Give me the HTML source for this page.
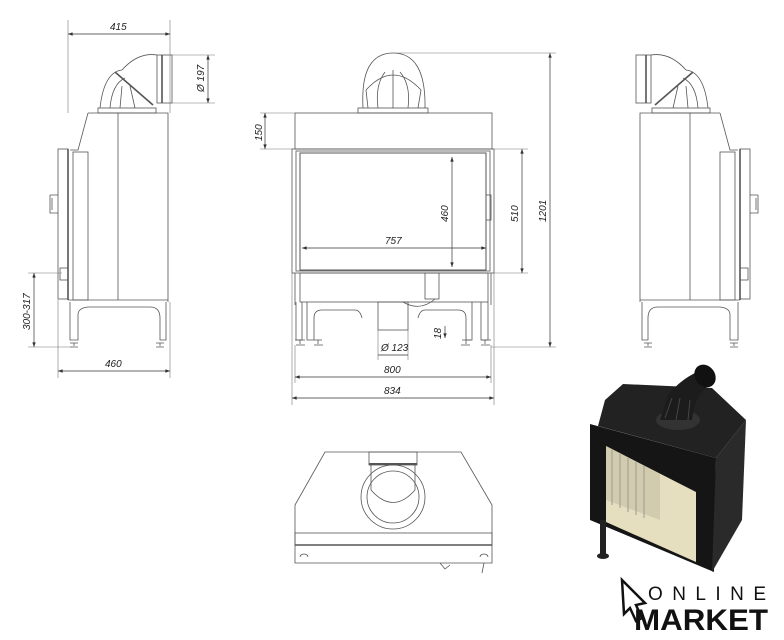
<!DOCTYPE html>
<html><head><meta charset="utf-8"><style>
html,body{margin:0;padding:0;background:#fff}
svg{display:block}
text{font-family:"Liberation Sans",sans-serif;font-style:italic;font-size:10px;fill:#222}
</style></head><body>
<svg width="784" height="640" viewBox="0 0 784 640" xmlns="http://www.w3.org/2000/svg">
<defs>
<marker id="a" viewBox="0 0 8 6" refX="8" refY="3" markerWidth="7" markerHeight="5" orient="auto-start-reverse"><path d="M0,0L8,3L0,6z" fill="#333"/></marker>
<g id="side" fill="none" stroke="#555" stroke-width="0.8">
  <path d="M88,113 H168 V302 M88,113 L78,150 H70"/>
  <rect x="58" y="149" width="10" height="150"/>
  <line x1="68" y1="149" x2="68" y2="300" stroke-width="1.6"/>
  <rect x="73" y="152" width="15" height="148"/>
  <path d="M50,195 h8 M50,195 v18 h8 M52,198 v12"/>
  <line x1="118" y1="113" x2="118" y2="300"/>
  <path d="M68,300 H168 M70,302 V340 H78 V315 Q78,308 88,307 H150 Q160,307 160,318 V340 H166 V302"/>
  <path d="M70,343 h8 M74,343 v3 M70,347 h8 M156,343 h8 M160,343 v3 M156,347 h8"/>
  <rect x="98" y="108" width="58" height="5"/>
  <path d="M100,108 Q104,72 122,70 M110,108 Q112,84 125,78 M120,108 L122,86 M135,108 L130,86 M122,70 Q138,52 157,55"/>
  <line x1="115" y1="72" x2="153" y2="105" stroke-width="1.6"/>
  <rect x="157" y="55" width="15" height="48"/>
  <line x1="162" y1="55" x2="162" y2="103" stroke-width="1.6"/>
  <rect x="60" y="268" width="8" height="12"/>
</g>
</defs>

<use href="#side"/>
<g stroke="#777" stroke-width="0.6" fill="none">
  <line x1="68" y1="20" x2="68" y2="113"/><line x1="170" y1="20" x2="170" y2="113"/>
  <line x1="172" y1="55" x2="215" y2="55"/><line x1="172" y1="103" x2="215" y2="103"/>
  <line x1="58" y1="300" x2="58" y2="378"/><line x1="170" y1="302" x2="170" y2="378"/>
  <line x1="28" y1="273" x2="62" y2="273"/><line x1="28" y1="347" x2="72" y2="347"/>
</g>
<g stroke="#333" stroke-width="0.7" fill="none">
  <line x1="68" y1="34" x2="170" y2="34" marker-start="url(#a)" marker-end="url(#a)"/>
  <line x1="208" y1="55" x2="208" y2="103" marker-start="url(#a)" marker-end="url(#a)"/>
  <line x1="58" y1="371" x2="170" y2="371" marker-start="url(#a)" marker-end="url(#a)"/>
  <line x1="34" y1="273" x2="34" y2="347" marker-start="url(#a)" marker-end="url(#a)"/>
</g>
<text x="110" y="30">415</text>
<text x="105" y="367">460</text>
<text transform="translate(204,92) rotate(-90)">Ø 197</text>
<text transform="translate(30,330) rotate(-90)">300-317</text>

<use href="#side" transform="translate(808,0) scale(-1,1)"/>

<g fill="none" stroke="#555" stroke-width="0.8">
  <rect x="295" y="113" width="197" height="36"/>
  <rect x="358" y="108" width="70" height="5"/>
  <path d="M363,108 Q360,53 393,53 Q426,53 425,108"/>
  <path d="M366,90 Q393,60 421,90 M366,90 L368,108 M421,90 L418,108 M378,108 Q375,85 385,72 M393,108 V70 M408,108 Q411,85 400,72"/>
  <rect x="292" y="149" width="202" height="124"/>
  <rect x="296" y="151" width="194" height="120"/>
  <rect x="300" y="153" width="186" height="117" stroke-width="1"/>
  <rect x="486" y="195" width="5" height="25"/>
  <rect x="300" y="273" width="188" height="29"/>
  <line x1="295" y1="273" x2="295" y2="305"/><line x1="491" y1="273" x2="491" y2="305"/>
  <path d="M296,302 V340 H302 V302 M481,302 V340 H488 V302"/>
  <path d="M307,302 V340 H314 V318 Q314,310 322,310 H355 Q360,310 362,318 M472,302 V340 H466 V318 Q466,310 458,310 H425 Q420,310 418,318"/>
  <path d="M295,340 h10 M300,340 v4 M296,345 h9 M481,340 h10 M485,340 v4 M481,345 h9 M314,340 h8 M318,340 v4 M314,345 h9 M462,340 h9 M466,340 v4 M461,345 h9"/>
  <rect x="378" y="302" width="30" height="28"/>
  <rect x="425" y="273" width="14" height="26"/>
  <path d="M403,302 Q420,312 435,299"/>
</g>
<g stroke="#777" stroke-width="0.6" fill="none">
  <line x1="260" y1="113" x2="295" y2="113"/><line x1="260" y1="149" x2="292" y2="149"/>
  <line x1="393" y1="53" x2="556" y2="53"/><line x1="491" y1="347" x2="556" y2="347"/>
  <line x1="494" y1="149" x2="528" y2="149"/><line x1="494" y1="273" x2="528" y2="273"/>
  <line x1="292" y1="273" x2="292" y2="405"/><line x1="494" y1="273" x2="494" y2="405"/>
  <line x1="295" y1="345" x2="295" y2="383"/><line x1="491" y1="345" x2="491" y2="383"/>
  <line x1="378" y1="330" x2="378" y2="360"/><line x1="408" y1="330" x2="408" y2="360"/>
</g>
<g stroke="#333" stroke-width="0.7" fill="none">
  <line x1="265" y1="113" x2="265" y2="149" marker-start="url(#a)" marker-end="url(#a)"/>
  <line x1="550" y1="53" x2="550" y2="347" marker-start="url(#a)" marker-end="url(#a)"/>
  <line x1="522" y1="149" x2="522" y2="273" marker-start="url(#a)" marker-end="url(#a)"/>
  <line x1="452" y1="157" x2="452" y2="267" marker-start="url(#a)" marker-end="url(#a)"/>
  <line x1="302" y1="248" x2="486" y2="248" marker-start="url(#a)" marker-end="url(#a)"/>
  <line x1="295" y1="377" x2="491" y2="377" marker-start="url(#a)" marker-end="url(#a)"/>
  <line x1="292" y1="398" x2="494" y2="398" marker-start="url(#a)" marker-end="url(#a)"/>
  <line x1="378" y1="355" x2="408" y2="355"/>
  <line x1="445" y1="326" x2="445" y2="338" marker-end="url(#a)"/>
</g>
<text x="385" y="244">757</text>
<text x="384" y="373">800</text>
<text x="384" y="394">834</text>
<text x="381" y="351">Ø 123</text>
<text transform="translate(262,141) rotate(-90)">150</text>
<text transform="translate(448,222) rotate(-90)">460</text>
<text transform="translate(518,222) rotate(-90)">510</text>
<text transform="translate(546,222) rotate(-90)">1201</text>
<text transform="translate(441,339) rotate(-90)">18</text>

<g fill="none" stroke="#555" stroke-width="0.8">
  <path d="M325,452 H461 L492,505 V563 H295 V505 Z"/>
  <rect x="369" y="452" width="48" height="13"/>
  <line x1="369" y1="464" x2="417" y2="464" stroke-width="2"/>
  <circle cx="393" cy="497" r="32"/>
  <circle cx="393" cy="497" r="26"/>
  <path d="M371,465 V490 Q393,515 415,490 V465"/>
  <rect x="295" y="533" width="197" height="12"/>
  <line x1="295" y1="545" x2="492" y2="545" stroke-width="1.5"/>
  <path d="M300,557 a4,3 0 1 1 8,0 M480,557 a4,3 0 1 1 8,0 M440,563 l5,6 l5,-4 M484,563 l-2,10"/>
</g>

<g>
  <polygon points="605,400 623,384 712,388 746,420 716,458 598,426" fill="#222"/>
  <polygon points="590,424 716,458 714,572 590,520" fill="#151515"/>
  <polygon points="716,458 746,420 742,520 712,572" fill="#2a2a2a"/>
  <polygon points="606,446 696,492 696,562 606,522" fill="#e6dfbf"/>
  <polygon points="606,446 660,474 660,520 606,500" fill="#c9c3a8" opacity="0.7"/>
  <path d="M612,450 V505 M620,454 V508 M628,458 V512 M636,462 V515 M644,466 V518" stroke="#999" stroke-width="1"/>
  <polygon points="600,520 606,520 606,555 600,555" fill="#222"/>
  <ellipse cx="603" cy="556" rx="6" ry="3" fill="#222"/>
  <ellipse cx="678" cy="420" rx="22" ry="10" fill="#333"/>
  <path d="M660,420 L668,395 Q680,380 697,372 L712,384 Q695,392 692,420 Z" fill="#1c1c1c"/>
  <ellipse cx="705" cy="376" rx="10" ry="12" fill="#111" transform="rotate(-35 705 376)"/>
  <path d="M665,418 L672,398 M676,420 L680,398 M688,420 L690,400" stroke="#444"/>
</g>

<g>
  <path d="M622,580 L645,603 L636,605 L642,618 L636,621 L630,608 L624,614 Z" fill="#fff" stroke="#111" stroke-width="2.5"/>
  <text x="648" y="600" textLength="118" lengthAdjust="spacing" style="font-style:normal;font-size:19px;fill:#111">ONLINE</text>
  <text x="634" y="630" textLength="134" lengthAdjust="spacingAndGlyphs" style="font-style:normal;font-weight:bold;font-size:30px;fill:#111">MARKET</text>
</g>
</svg>
</body></html>
